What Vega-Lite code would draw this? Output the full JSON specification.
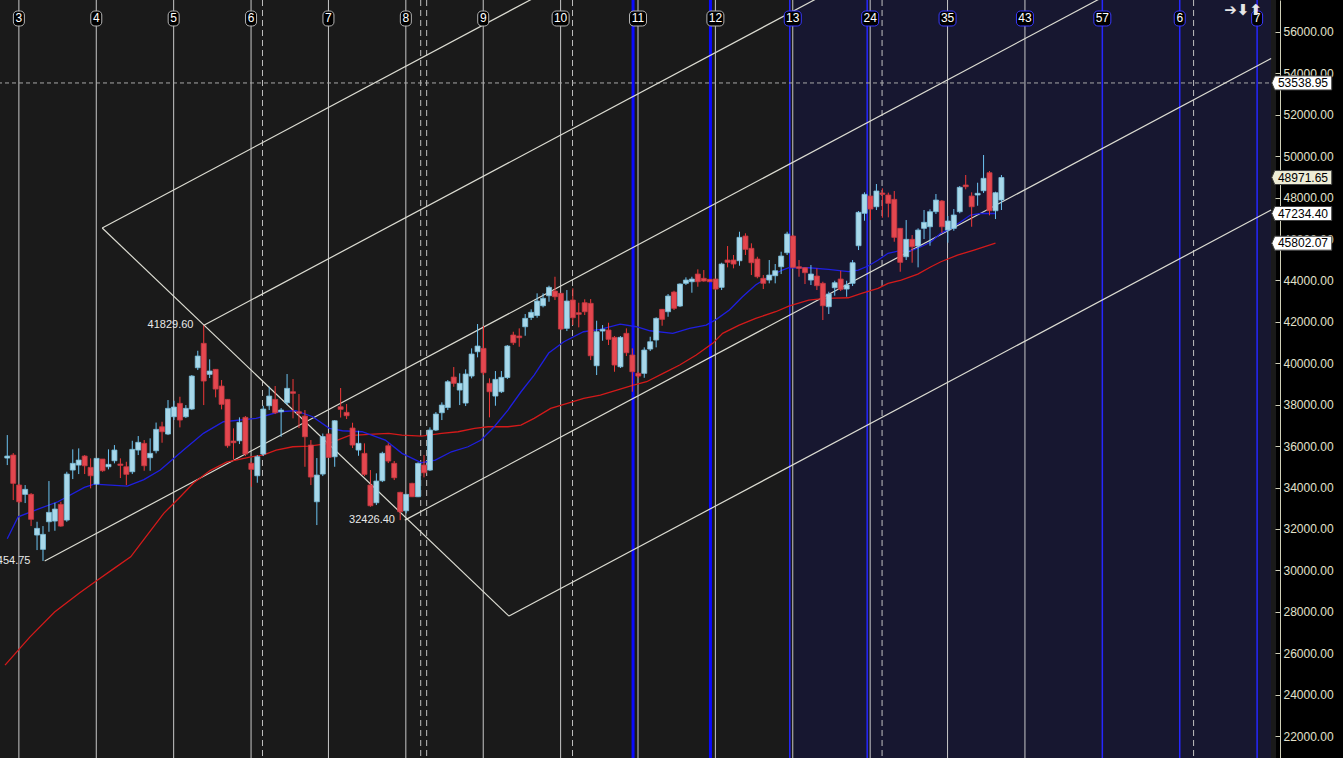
{
  "$schema": "https://vega.github.io/schema/vega-lite/v6.json",
  "width": 1276,
  "height": 758,
  "autosize": {"type": "none"},
  "padding": {"left": 0, "top": 0, "right": 67, "bottom": 0},
  "background": "#000000",
  "config": {"view": {"fill": "#1a1a1a", "stroke": null}, "font": "Liberation Sans"},
  "datasets": {
    "candles": [
      {"k":0,"o":35424,"h":36534,"l":35085,"c":35520},
      {"k":1,"o":35568,"h":35665,"l":33395,"c":34202},
      {"k":2,"o":34119,"h":34168,"l":33250,"c":33313},
      {"k":3,"o":33670,"h":34119,"l":33250,"c":33912},
      {"k":4,"o":33670,"h":33733,"l":32139,"c":32463},
      {"k":5,"o":31705,"h":32347,"l":30980,"c":32028},
      {"k":6,"o":31014,"h":32139,"l":30454.75,"c":31738},
      {"k":7,"o":32347,"h":34313,"l":31864,"c":32801},
      {"k":8,"o":32381,"h":33265,"l":31912,"c":32960},
      {"k":9,"o":33187,"h":33313,"l":32105,"c":32139},
      {"k":10,"o":32429,"h":34762,"l":32347,"c":34651},
      {"k":11,"o":34844,"h":35844,"l":34409,"c":35168},
      {"k":12,"o":35085,"h":35892,"l":34651,"c":35327},
      {"k":13,"o":35520,"h":35568,"l":34651,"c":35052},
      {"k":14,"o":34974,"h":35409,"l":33960,"c":34569},
      {"k":15,"o":34168,"h":35424,"l":34119,"c":35409},
      {"k":16,"o":35375,"h":35375,"l":34762,"c":34810},
      {"k":17,"o":35003,"h":35844,"l":34878,"c":35119},
      {"k":18,"o":35293,"h":36051,"l":35168,"c":35810},
      {"k":19,"o":35134,"h":35409,"l":34458,"c":35071},
      {"k":20,"o":35003,"h":35245,"l":34119,"c":34636},
      {"k":21,"o":34762,"h":36259,"l":34651,"c":35844},
      {"k":22,"o":35810,"h":36486,"l":35568,"c":36182},
      {"k":23,"o":36134,"h":36293,"l":34810,"c":35052},
      {"k":24,"o":35438,"h":36375,"l":34810,"c":35651},
      {"k":25,"o":35776,"h":37138,"l":35651,"c":36810},
      {"k":26,"o":36935,"h":37177,"l":36163,"c":36694},
      {"k":27,"o":36583,"h":38225,"l":36534,"c":37824},
      {"k":28,"o":37418,"h":38191,"l":37259,"c":37887},
      {"k":29,"o":38066,"h":38384,"l":36906,"c":37259},
      {"k":30,"o":37418,"h":37983,"l":37356,"c":37824},
      {"k":31,"o":37790,"h":39433,"l":37742,"c":39384},
      {"k":32,"o":39785,"h":40606,"l":39674,"c":40350},
      {"k":33,"o":40964,"h":41829.6,"l":37983,"c":39143},
      {"k":34,"o":39466,"h":40191,"l":39288,"c":39626},
      {"k":35,"o":39708,"h":39723,"l":38355,"c":38756},
      {"k":36,"o":38901,"h":39191,"l":37776,"c":38017},
      {"k":37,"o":38259,"h":38273,"l":35921,"c":36018},
      {"k":38,"o":36245,"h":36858,"l":35361,"c":36163},
      {"k":39,"o":36259,"h":37389,"l":36100,"c":37148},
      {"k":40,"o":37389,"h":37452,"l":35520,"c":35617},
      {"k":41,"o":35168,"h":35230,"l":34037,"c":34878},
      {"k":42,"o":34569,"h":35568,"l":34231,"c":35486},
      {"k":43,"o":35617,"h":37950,"l":35520,"c":37790},
      {"k":44,"o":37950,"h":38867,"l":37742,"c":38418},
      {"k":45,"o":38259,"h":38901,"l":37549,"c":37612},
      {"k":46,"o":37660,"h":37839,"l":36452,"c":37742},
      {"k":47,"o":38095,"h":39481,"l":37983,"c":38790},
      {"k":48,"o":38626,"h":39239,"l":37341,"c":38549},
      {"k":49,"o":37660,"h":38515,"l":36873,"c":37583},
      {"k":50,"o":37452,"h":37742,"l":35003,"c":36452},
      {"k":51,"o":36051,"h":36293,"l":34119,"c":34506},
      {"k":52,"o":33313,"h":35424,"l":32187,"c":34602},
      {"k":53,"o":34651,"h":36607,"l":34554,"c":36462},
      {"k":54,"o":36583,"h":36631,"l":35424,"c":35457},
      {"k":55,"o":35486,"h":37259,"l":35003,"c":37225},
      {"k":56,"o":37901,"h":38805,"l":37380,"c":37776},
      {"k":57,"o":37631,"h":38032,"l":37307,"c":37467},
      {"k":58,"o":36873,"h":37129,"l":35907,"c":36051},
      {"k":59,"o":35810,"h":36742,"l":35535,"c":36134},
      {"k":60,"o":35651,"h":36134,"l":34554,"c":34636},
      {"k":61,"o":34119,"h":34844,"l":33071,"c":33120},
      {"k":62,"o":33265,"h":34685,"l":33154,"c":34313},
      {"k":63,"o":34327,"h":35728,"l":34264,"c":35651},
      {"k":64,"o":36018,"h":36134,"l":35182,"c":35279},
      {"k":65,"o":35168,"h":35279,"l":34361,"c":34472},
      {"k":66,"o":33767,"h":33796,"l":32426.4,"c":32830},
      {"k":67,"o":32878,"h":33685,"l":32753,"c":33670},
      {"k":68,"o":34202,"h":34231,"l":33540,"c":33554},
      {"k":69,"o":33554,"h":35216,"l":33540,"c":35168},
      {"k":70,"o":35085,"h":35568,"l":34491,"c":34714},
      {"k":71,"o":34844,"h":36906,"l":34796,"c":36776},
      {"k":72,"o":36776,"h":37645,"l":36728,"c":37549},
      {"k":73,"o":37612,"h":38114,"l":37259,"c":37983},
      {"k":74,"o":37863,"h":39191,"l":37742,"c":39109},
      {"k":75,"o":39336,"h":39819,"l":38867,"c":39032},
      {"k":76,"o":38708,"h":39515,"l":37983,"c":39032},
      {"k":77,"o":38080,"h":39708,"l":37935,"c":39481},
      {"k":78,"o":39384,"h":40722,"l":39273,"c":40447},
      {"k":79,"o":40558,"h":41896,"l":40287,"c":40833},
      {"k":80,"o":40722,"h":41799,"l":39433,"c":39544},
      {"k":81,"o":39032,"h":39273,"l":37389,"c":38626},
      {"k":82,"o":38418,"h":39626,"l":37950,"c":39225},
      {"k":83,"o":38626,"h":39626,"l":38563,"c":39321},
      {"k":84,"o":39312,"h":40882,"l":39239,"c":40833},
      {"k":85,"o":41365,"h":41524,"l":40882,"c":40993},
      {"k":86,"o":41316,"h":41688,"l":40799,"c":41234},
      {"k":87,"o":41765,"h":42379,"l":41331,"c":42171},
      {"k":88,"o":42210,"h":42606,"l":42089,"c":42461},
      {"k":89,"o":42306,"h":43379,"l":42200,"c":43007},
      {"k":90,"o":42780,"h":43379,"l":42702,"c":43137},
      {"k":91,"o":43263,"h":43746,"l":42973,"c":43668},
      {"k":92,"o":43490,"h":44180,"l":43055,"c":43214},
      {"k":93,"o":43379,"h":43394,"l":41606,"c":41654},
      {"k":94,"o":41688,"h":43538,"l":41558,"c":43007},
      {"k":95,"o":43055,"h":43620,"l":41847,"c":42200},
      {"k":96,"o":42442,"h":42925,"l":41736,"c":42364},
      {"k":97,"o":42925,"h":43089,"l":42331,"c":42490},
      {"k":98,"o":42896,"h":43103,"l":40157,"c":40365},
      {"k":99,"o":39882,"h":42055,"l":39433,"c":41524},
      {"k":100,"o":41558,"h":41847,"l":41089,"c":41640},
      {"k":101,"o":41606,"h":41959,"l":40882,"c":41157},
      {"k":102,"o":41253,"h":41316,"l":39592,"c":39916},
      {"k":103,"o":39833,"h":41316,"l":39771,"c":41253},
      {"k":104,"o":41447,"h":41688,"l":40350,"c":40510},
      {"k":105,"o":40399,"h":40722,"l":38626,"c":39592},
      {"k":106,"o":39515,"h":39577,"l":39288,"c":39384},
      {"k":107,"o":39515,"h":40770,"l":39302,"c":40640},
      {"k":108,"o":40688,"h":41282,"l":40592,"c":41041},
      {"k":109,"o":41123,"h":42219,"l":40770,"c":42171},
      {"k":110,"o":42606,"h":42620,"l":41814,"c":42123},
      {"k":111,"o":42490,"h":43345,"l":42248,"c":43248},
      {"k":112,"o":43441,"h":43504,"l":42572,"c":42654},
      {"k":113,"o":42765,"h":43862,"l":42717,"c":43828},
      {"k":114,"o":43862,"h":44151,"l":43780,"c":44021},
      {"k":115,"o":43939,"h":44180,"l":43408,"c":44069},
      {"k":116,"o":44311,"h":44538,"l":43697,"c":43939},
      {"k":117,"o":44103,"h":44504,"l":43939,"c":43973},
      {"k":118,"o":44055,"h":44069,"l":43924,"c":43939},
      {"k":119,"o":44069,"h":44069,"l":43538,"c":43586},
      {"k":120,"o":43668,"h":44857,"l":43538,"c":44794},
      {"k":121,"o":44987,"h":45663,"l":44634,"c":44876},
      {"k":122,"o":44987,"h":45229,"l":44586,"c":44794},
      {"k":123,"o":44953,"h":46354,"l":44712,"c":46083},
      {"k":124,"o":46146,"h":46277,"l":45229,"c":45504},
      {"k":125,"o":45552,"h":45794,"l":44262,"c":44857},
      {"k":126,"o":45035,"h":45146,"l":44103,"c":44180},
      {"k":127,"o":44103,"h":44262,"l":43586,"c":43862},
      {"k":128,"o":44021,"h":44987,"l":43862,"c":44262},
      {"k":129,"o":44229,"h":44794,"l":43862,"c":44470},
      {"k":130,"o":44663,"h":45388,"l":44311,"c":45180},
      {"k":131,"o":45340,"h":46354,"l":45229,"c":46243},
      {"k":132,"o":46146,"h":46195,"l":44601,"c":44634},
      {"k":133,"o":44663,"h":44987,"l":44180,"c":44586},
      {"k":134,"o":44615,"h":44634,"l":43828,"c":44376},
      {"k":135,"o":44021,"h":44746,"l":43780,"c":44311},
      {"k":136,"o":44214,"h":44586,"l":43538,"c":43746},
      {"k":137,"o":43862,"h":43939,"l":42089,"c":42780},
      {"k":138,"o":42731,"h":43456,"l":42379,"c":43345},
      {"k":139,"o":43649,"h":43987,"l":43263,"c":43891},
      {"k":140,"o":44069,"h":44470,"l":43490,"c":43572},
      {"k":141,"o":43586,"h":43987,"l":43214,"c":43780},
      {"k":142,"o":43862,"h":44987,"l":43731,"c":44857},
      {"k":143,"o":45678,"h":47354,"l":45470,"c":47291},
      {"k":144,"o":47243,"h":48257,"l":46885,"c":48160},
      {"k":145,"o":48078,"h":48078,"l":46919,"c":47450},
      {"k":146,"o":47561,"h":48658,"l":47402,"c":48320},
      {"k":147,"o":48223,"h":48450,"l":47030,"c":48160},
      {"k":148,"o":48127,"h":48241,"l":47049,"c":47726},
      {"k":149,"o":47917,"h":48320,"l":45871,"c":46083},
      {"k":150,"o":46518,"h":46532,"l":44422,"c":44876},
      {"k":151,"o":45146,"h":46919,"l":44989,"c":45987},
      {"k":152,"o":45987,"h":46195,"l":44857,"c":45629},
      {"k":153,"o":45663,"h":46518,"l":44634,"c":46436},
      {"k":154,"o":46518,"h":47402,"l":46001,"c":46808},
      {"k":155,"o":46595,"h":47436,"l":45678,"c":47320},
      {"k":156,"o":47320,"h":48175,"l":47209,"c":47885},
      {"k":157,"o":47837,"h":47885,"l":46306,"c":46595},
      {"k":158,"o":46436,"h":47112,"l":45823,"c":46871},
      {"k":159,"o":46518,"h":47450,"l":46402,"c":47161},
      {"k":160,"o":47320,"h":48561,"l":47243,"c":48498},
      {"k":161,"o":48610,"h":49093,"l":48402,"c":48527},
      {"k":162,"o":48078,"h":48257,"l":46595,"c":47561},
      {"k":163,"o":48127,"h":48721,"l":47610,"c":48209},
      {"k":164,"o":48334,"h":50059,"l":48223,"c":48933},
      {"k":165,"o":49204,"h":49286,"l":47145,"c":47368},
      {"k":166,"o":47368,"h":48286,"l":46967,"c":48238},
      {"k":167,"o":47885,"h":49093,"l":47402,"c":48971.65}
    ],
    "maBlue": [
      {"k":0,"v":31526},{"k":1.83,"v":32588},{"k":5.17,"v":32960},{"k":8.5,"v":33313},{"k":12.95,"v":34008},{"k":14.6,"v":34168},{"k":20.17,"v":34071},{"k":22.95,"v":34385},{"k":25.7,"v":34844},{"k":29.6,"v":35810},{"k":32.95,"v":36617},{"k":36.3,"v":37177},{"k":41.8,"v":37341},{"k":45.7,"v":37660},{"k":48.45,"v":37718},{"k":51.3,"v":37418},{"k":54.1,"v":36858},{"k":56.3,"v":36742},{"k":59.6,"v":36694},{"k":63.5,"v":36293},{"k":66.3,"v":35651},{"k":69.6,"v":35197},{"k":71.9,"v":35327},{"k":74.6,"v":35728},{"k":77.4,"v":35969},{"k":79.6,"v":36293},{"k":81.8,"v":36935},{"k":84.1,"v":37742},{"k":86.3,"v":38626},{"k":88.5,"v":39433},{"k":90.95,"v":40495},{"k":93.5,"v":41041},{"k":96.8,"v":41524},{"k":99.6,"v":41640},{"k":102.95,"v":41896},{"k":105.7,"v":41765},{"k":107.95,"v":41572},{"k":111.8,"v":41447},{"k":114.6,"v":41688},{"k":117.4,"v":41847},{"k":119.1,"v":42123},{"k":121.3,"v":42572},{"k":123.5,"v":43214},{"k":125.7,"v":43780},{"k":127.95,"v":44180},{"k":130.2,"v":44504},{"k":131.3,"v":44615},{"k":134.6,"v":44615},{"k":137.95,"v":44538},{"k":141.3,"v":44432},{"k":142.95,"v":44504},{"k":144.6,"v":44697},{"k":146.3,"v":44987},{"k":147.95,"v":45311},{"k":149.6,"v":45422},{"k":151.8,"v":45436},{"k":153.5,"v":45629},{"k":155.2,"v":45871},{"k":156.8,"v":46277},{"k":158.5,"v":46518},{"k":160.2,"v":46837},{"k":161.8,"v":47161},{"k":163.5,"v":47243},{"k":166,"v":47234.4}
    ],
    "maRed": [
      {"k":-0.38,"v":25425},{"k":3.78,"v":26778},{"k":7.95,"v":27985},{"k":12.12,"v":28903},{"k":15.17,"v":29531},{"k":17.95,"v":30096},{"k":20.73,"v":30656},{"k":23.5,"v":31705},{"k":26.28,"v":32753},{"k":29.07,"v":33554},{"k":31.28,"v":34216},{"k":34.07,"v":34820},{"k":36.83,"v":35230},{"k":40.73,"v":35472},{"k":42.95,"v":35568},{"k":45.17,"v":35810},{"k":47.95,"v":35969},{"k":50.73,"v":36003},{"k":54.07,"v":36134},{"k":57.4,"v":36510},{"k":60.73,"v":36568},{"k":64.07,"v":36617},{"k":66.28,"v":36534},{"k":69.62,"v":36486},{"k":72.95,"v":36617},{"k":75.73,"v":36694},{"k":78.5,"v":36858},{"k":80.78,"v":36935},{"k":84.07,"v":36935},{"k":86.28,"v":37017},{"k":88.5,"v":37341},{"k":91.28,"v":37824},{"k":94.07,"v":38066},{"k":96.83,"v":38307},{"k":99.62,"v":38466},{"k":102.4,"v":38708},{"k":105.17,"v":38950},{"k":107.4,"v":39109},{"k":110.17,"v":39515},{"k":112.95,"v":39916},{"k":115.73,"v":40399},{"k":118.5,"v":40964},{"k":120.17,"v":41447},{"k":122.95,"v":41847},{"k":125.73,"v":42171},{"k":129.07,"v":42490},{"k":131.28,"v":42765},{"k":134.62,"v":43055},{"k":137.4,"v":43137},{"k":141.28,"v":43166},{"k":143.5,"v":43379},{"k":146.28,"v":43620},{"k":147.95,"v":43862},{"k":150.17,"v":44021},{"k":152.95,"v":44311},{"k":155.17,"v":44663},{"k":156.83,"v":44905},{"k":159.62,"v":45229},{"k":162.4,"v":45470},{"k":166,"v":45802.07}
    ],
    "channels": [
      {"id":"pf","k":15.95,"v":46533},{"id":"pf","k":84.28,"v":27792},
      {"id":"L1","k":15.95,"v":46533},{"id":"L1","k":212.3,"v":76614},
      {"id":"L2","k":32.95,"v":41829.6},{"id":"L2","k":212.3,"v":69306},
      {"id":"L3","k":6.28,"v":30454.75},{"id":"L3","k":212.3,"v":62014},
      {"id":"L4","k":66.78,"v":32426.4},{"id":"L4","k":212.3,"v":54717},
      {"id":"L5","k":84.28,"v":27792},{"id":"L5","k":212.3,"v":47402}
    ],
    "vlines": [
      {"k":1.95,"t":"white"},{"k":14.95,"t":"white"},{"k":27.95,"t":"white"},{"k":40.95,"t":"white"},{"k":53.95,"t":"white"},{"k":66.95,"t":"white"},{"k":79.95,"t":"white"},{"k":92.95,"t":"white"},{"k":105.95,"t":"white"},{"k":118.95,"t":"white"},{"k":131.95,"t":"white"},{"k":144.95,"t":"white"},{"k":157.95,"t":"white"},{"k":170.95,"t":"white"},
      {"k":105.12,"t":"bluethick"},{"k":118.12,"t":"bluethick"},
      {"k":131.45,"t":"blue"},{"k":144.45,"t":"blue"},{"k":183.95,"t":"blue"},{"k":196.95,"t":"blue"},{"k":209.95,"t":"blue"},
      {"k":42.87,"t":"dash"},{"k":69.45,"t":"dash"},{"k":70.45,"t":"dash"},{"k":94.95,"t":"dash"},{"k":146.95,"t":"dash"},{"k":199.28,"t":"dash"}
    ],
    "header": [
      {"k":1.95,"t":"3","g":"w"},{"k":14.95,"t":"4","g":"w"},{"k":27.95,"t":"5","g":"w"},{"k":40.95,"t":"6","g":"w"},{"k":53.95,"t":"7","g":"w"},{"k":66.95,"t":"8","g":"w"},{"k":79.95,"t":"9","g":"w"},{"k":92.95,"t":"10","g":"w"},{"k":105.95,"t":"11","g":"w"},{"k":118.95,"t":"12","g":"w"},{"k":131.95,"t":"13","g":"b"},{"k":144.95,"t":"24","g":"b"},{"k":157.95,"t":"35","g":"b"},{"k":170.95,"t":"43","g":"b"},{"k":183.95,"t":"57","g":"b"},{"k":196.95,"t":"6","g":"b"},{"k":209.95,"t":"7","g":"b"}
    ],
    "notes": [
      {"k":31.28,"v":41829.6,"t":"41829.60"},
      {"k":3.9,"v":30454.75,"t":"30454.75"},
      {"k":65.12,"v":32426.4,"t":"32426.40"}
    ],
    "tags": [
      {"v":53538.95,"t":"53538.95","g":"w"},
      {"v":48971.65,"t":"48971.65","g":"c"},
      {"v":47234.4,"t":"47234.40","g":"w"},
      {"v":45802.07,"t":"45802.07","g":"w"}
    ]
  },
  "layer": [
    {
      "data": {"values": [{"a": 132.12, "b": 212.283}]},
      "mark": {"type": "rect", "fill": "#171730"},
      "encoding": {
        "x": {"field": "a", "type": "quantitative", "scale": {"domain": [-0.3833, 212.283], "nice": false, "zero": false}, "axis": null},
        "x2": {"field": "b"}
      }
    },
    {
      "data": {"name": "vlines"},
      "transform": [{"filter": "datum.t == 'white'"}],
      "mark": {"type": "rule", "stroke": "#c8c8c8", "strokeWidth": 1},
      "encoding": {"x": {"field": "k", "type": "quantitative", "axis": null}}
    },
    {
      "data": {"name": "vlines"},
      "transform": [{"filter": "datum.t == 'dash'"}],
      "mark": {"type": "rule", "stroke": "#c0c0c0", "strokeWidth": 1, "strokeDash": [6, 4]},
      "encoding": {"x": {"field": "k", "type": "quantitative", "axis": null}}
    },
    {
      "data": {"name": "vlines"},
      "transform": [{"filter": "datum.t == 'bluethick'"}],
      "mark": {"type": "rule", "stroke": "#0a0aff", "strokeWidth": 3},
      "encoding": {"x": {"field": "k", "type": "quantitative", "axis": null}}
    },
    {
      "data": {"name": "vlines"},
      "transform": [{"filter": "datum.t == 'blue'"}],
      "mark": {"type": "rule", "stroke": "#2626ff", "strokeWidth": 1.5},
      "encoding": {"x": {"field": "k", "type": "quantitative", "axis": null}}
    },
    {
      "data": {"name": "candles"},
      "mark": {"type": "bar", "width": 5, "strokeWidth": 0.8, "opacity": 0},
      "encoding": {
        "x": {"field": "k", "type": "quantitative", "axis": null},
        "y": {
          "field": "o", "type": "quantitative",
          "scale": {"domain": [20938, 57545.4], "nice": false, "zero": false},
          "axis": {
            "orient": "right", "offset": 4, "title": null, "grid": false,
            "values": [22000, 24000, 26000, 28000, 30000, 32000, 34000, 36000, 38000, 40000, 42000, 44000, 46000, 48000, 50000, 52000, 54000, 56000],
            "format": ".2f", "labelColor": "#e2e2cc", "labelFontSize": 12, "labelFont": "Liberation Sans",
            "domainColor": "#cfcfb8", "tickColor": "#cfcfb8", "tickSize": -5, "labelPadding": 8,
            "labelFlush": false, "labelOverlap": false
          }
        },
        "y2": {"field": "c"}
      }
    },
    {
      "data": {"values": [{"v": 53538.95}]},
      "mark": {"type": "rule", "stroke": "#a8a8a8", "strokeWidth": 1, "strokeDash": [4, 3]},
      "encoding": {"y": {"field": "v", "type": "quantitative"}}
    },
    {
      "data": {"name": "channels"},
      "mark": {"type": "line", "stroke": "#dcdcd2", "strokeWidth": 1.2, "clip": true},
      "encoding": {
        "x": {"field": "k", "type": "quantitative", "axis": null},
        "y": {"field": "v", "type": "quantitative"},
        "detail": {"field": "id"}
      }
    },
    {
      "data": {"name": "maRed"},
      "mark": {"type": "line", "stroke": "#d41a1a", "strokeWidth": 1.3, "clip": true},
      "encoding": {
        "x": {"field": "k", "type": "quantitative", "axis": null},
        "y": {"field": "v", "type": "quantitative"}
      }
    },
    {
      "data": {"name": "maBlue"},
      "mark": {"type": "line", "stroke": "#1f1fe0", "strokeWidth": 1.3, "clip": true},
      "encoding": {
        "x": {"field": "k", "type": "quantitative", "axis": null},
        "y": {"field": "v", "type": "quantitative"}
      }
    },
    {
      "data": {"name": "candles"},
      "mark": {"type": "rule", "strokeWidth": 1},
      "encoding": {
        "x": {"field": "k", "type": "quantitative", "axis": null},
        "y": {"field": "l", "type": "quantitative"},
        "y2": {"field": "h"},
        "stroke": {"condition": {"test": "datum.c >= datum.o", "value": "#6cc4f2"}, "value": "#f23838"}
      }
    },
    {
      "data": {"name": "candles"},
      "mark": {"type": "bar", "width": 5, "strokeWidth": 0.8},
      "encoding": {
        "x": {"field": "k", "type": "quantitative", "axis": null},
        "y": {"field": "o", "type": "quantitative"},
        "y2": {"field": "c"},
        "fill": {"condition": {"test": "datum.c >= datum.o", "value": "#a8d8ea"}, "value": "#e4474f"},
        "stroke": {"condition": {"test": "datum.c >= datum.o", "value": "#7cc0dc"}, "value": "#c83a42"}
      }
    },
    {
      "data": {"name": "notes"},
      "mark": {"type": "text", "align": "right", "baseline": "middle", "fontSize": 11, "fill": "#e8e8e8"},
      "encoding": {
        "x": {"field": "k", "type": "quantitative", "axis": null},
        "y": {"field": "v", "type": "quantitative"},
        "text": {"field": "t"}
      }
    },
    {
      "data": {"name": "header"},
      "transform": [{"filter": "length(datum.t) == 1"}],
      "mark": {"type": "bar", "width": 11, "cornerRadius": 4, "fill": "#000000", "strokeWidth": 1},
      "encoding": {
        "x": {"field": "k", "type": "quantitative", "axis": null},
        "y": {"datum": 57014, "type": "quantitative"},
        "y2": {"datum": 56290},
        "stroke": {"condition": {"test": "datum.g == 'b'", "value": "#3a3aff"}, "value": "#b4b4b4"}
      }
    },
    {
      "data": {"name": "header"},
      "transform": [{"filter": "length(datum.t) == 2"}],
      "mark": {"type": "bar", "width": 17, "cornerRadius": 4, "fill": "#000000", "strokeWidth": 1},
      "encoding": {
        "x": {"field": "k", "type": "quantitative", "axis": null},
        "y": {"datum": 57014, "type": "quantitative"},
        "y2": {"datum": 56290},
        "stroke": {"condition": {"test": "datum.g == 'b'", "value": "#3a3aff"}, "value": "#b4b4b4"}
      }
    },
    {
      "data": {"name": "header"},
      "mark": {"type": "text", "align": "center", "baseline": "middle", "fontSize": 12, "fill": "#ffffff"},
      "encoding": {
        "x": {"field": "k", "type": "quantitative", "axis": null},
        "y": {"datum": 56652, "type": "quantitative"},
        "text": {"field": "t"}
      }
    },
    {
      "data": {"values": [{"k": 207.6, "t": "➔⬇⬆"}]},
      "mark": {"type": "text", "align": "center", "baseline": "middle", "fontSize": 15, "fontWeight": "bold", "fill": "#e6e6e6", "font": "DejaVu Sans"},
      "encoding": {
        "x": {"field": "k", "type": "quantitative", "axis": null},
        "y": {"datum": 57062, "type": "quantitative"},
        "text": {"field": "t"}
      }
    },
    {
      "data": {"name": "tags"},
      "mark": {"type": "point", "filled": true, "shape": "M-1,0 L-0.9,-0.233 L1,-0.233 L1,0.233 L-0.9,0.233 Z", "size": 3600, "strokeWidth": 1, "stroke": "#404040", "opacity": 1},
      "encoding": {
        "x": {"datum": 217.45, "type": "quantitative", "axis": null},
        "y": {"field": "v", "type": "quantitative"},
        "fill": {"condition": {"test": "datum.g == 'c'", "value": "#eeedd6"}, "value": "#ffffff"}
      }
    },
    {
      "data": {"name": "tags"},
      "mark": {"type": "text", "align": "left", "baseline": "middle", "fontSize": 12, "fill": "#000000", "font": "Liberation Sans"},
      "encoding": {
        "x": {"datum": 213.45, "type": "quantitative", "axis": null},
        "y": {"field": "v", "type": "quantitative"},
        "text": {"field": "t"}
      }
    }
  ]
}
